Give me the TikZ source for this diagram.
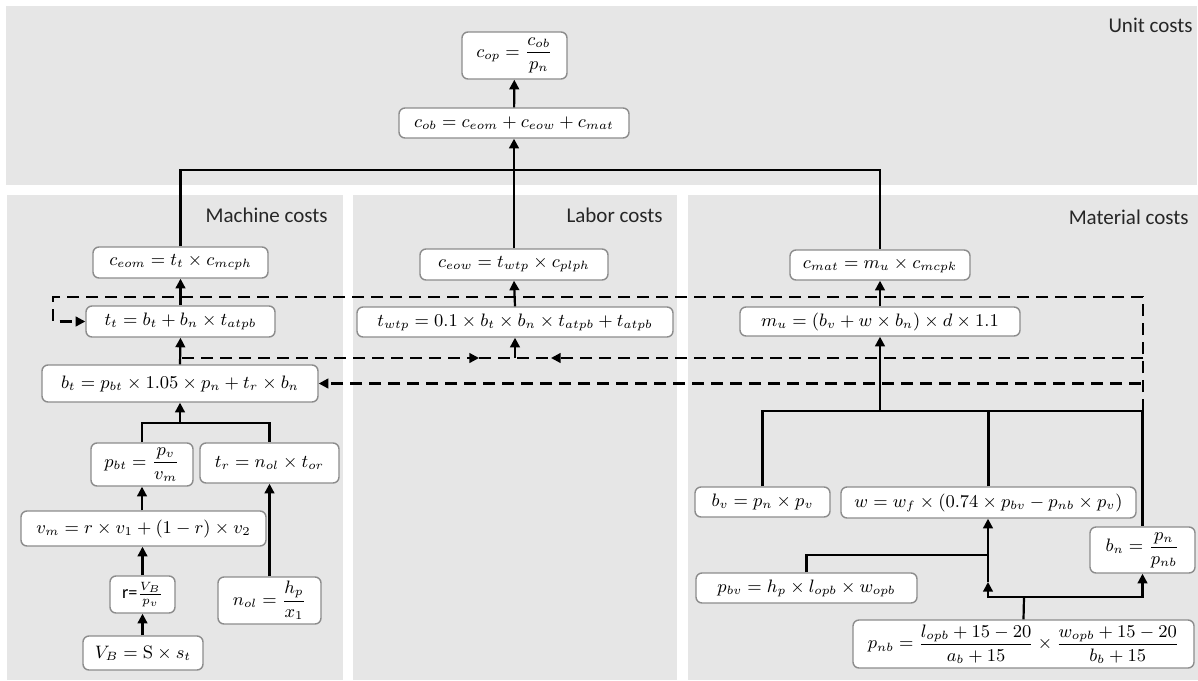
\documentclass[tikz,border=0pt]{standalone}
\usepackage{amsmath}
\usepackage[no-math]{fontspec}
\setmainfont{Carlito}
\usetikzlibrary{arrows.meta}
\definecolor{panel}{HTML}{E6E6E6}
\definecolor{boxline}{HTML}{8C8C8C}
\definecolor{labtext}{HTML}{262626}
\tikzset{
  eq/.style 2 args={draw=boxline, fill=white, rounded corners=3pt, line width=0.7pt,
    inner sep=0pt, minimum width=#1*0.5pt, minimum height=#2*0.5pt,
    font=\fontsize{9.1}{11}\selectfont},
  lab/.style={font=\fontsize{10.5}{12}\selectfont, text=labtext, inner sep=0pt, anchor=east},
  conn/.style={line width=1.1pt, black},
  arr/.style={conn, -{Triangle[length=4.8pt,width=4.8pt]}},
  dsh/.style={conn, dash pattern=on 6pt off 3.5pt},
  darr/.style={dsh, -{Triangle[length=4.8pt,width=4.8pt]}},
}
\begin{document}
\begin{tikzpicture}[x=0.5pt,y=-0.5pt]
\useasboundingbox[fill=white] (0,0) rectangle (1198,680);
% panels
\fill[panel] (6,6) rectangle (1197,185);
\fill[panel] (7,195) rectangle (343,680);
\fill[panel] (353,195) rectangle (677,680);
\fill[panel] (688,195) rectangle (1198,680);
% labels
\node[lab] (lu) at (1193,25) {Unit costs};
\node[lab] (lm) at (328,215) {Machine costs};
\node[lab] (ll) at (663,215) {Labor costs};
\node[lab] (lt) at (1189,217) {Material costs};
% unit
\node[eq={105}{47}] (cop) at (514.5,55.5) {$c_{op}=\dfrac{c_{ob}}{p_n}$};
\node[eq={230}{30}] (cob) at (514,123) {$c_{ob}=c_{eom}+c_{eow}+c_{mat}$};
% machine
\node[eq={175}{31}] (ceom) at (180.5,262.5) {$c_{eom}=t_t\times c_{mcph}$};
\node[eq={189}{31}] (tt) at (180.5,321.5) {$t_t=b_t+b_n\times t_{atpb}$};
\node[eq={276}{37}] (bt) at (180,383.5) {$b_t=p_{bt}\times 1.05\times p_n+t_r\times b_n$};
\node[eq={102}{43}] (pbt) at (142,464.5) {$p_{bt}=\dfrac{p_v}{v_m}$};
\node[eq={139}{40}] (tr) at (269.5,463) {$t_r=n_{ol}\times t_{or}$};
\node[eq={245}{35}] (vm) at (143.5,528.5) {$v_m=r\times v_1+(1-r)\times v_2$};
\node[eq={65}{37}] (r) at (142.5,594.5) {r=$\frac{V_B}{p_v}$};
\node[eq={103}{47}] (nol) at (269.5,600.5) {$n_{ol}=\dfrac{h_p}{x_1}$};
\node[eq={120}{34}] (vb) at (143,653) {$V_B=\mathrm{S}\times s_t$};
% labor
\node[eq={188}{31}] (ceow) at (514,264.5) {$c_{eow}=t_{wtp}\times c_{plph}$};
\node[eq={316}{30}] (twtp) at (515,322) {$t_{wtp}=0.1\times b_t\times b_n\times t_{atpb}+t_{atpb}$};
% material
\node[eq={180}{30}] (cmat) at (880,265) {$c_{mat}=m_u\times c_{mcpk}$};
\node[eq={280}{29}] (mu) at (880,321.5) {$m_u=(b_v+w\times b_n)\times d\times 1.1$};
\node[eq={135}{30}] (bv) at (762.5,502) {$b_v=p_n\times p_v$};
\node[eq={295}{31}] (w) at (988.5,502.5) {$w=w_f\times(0.74\times p_{bv}-p_{nb}\times p_v)$};
\node[eq={105}{46}] (bn) at (1142.5,550) {$b_n=\dfrac{p_n}{p_{nb}}$};
\node[eq={221}{30}] (pbv) at (806.5,588) {$p_{bv}=h_p\times l_{opb}\times w_{opb}$};
\node[eq={341}{48}] (pnb) at (1023.5,644) {$p_{nb}=\dfrac{l_{opb}+15-20}{a_b+15}\times\dfrac{w_{opb}+15-20}{b_b+15}$};
% coordinates
\coordinate (hub) at (514,170);
\coordinate (mj) at (180,423);
\coordinate (mat) at (880,411);
\coordinate (bnj) at (1143,411);
\coordinate (wj) at (988,555);
\coordinate (pj) at (1024,597);
\coordinate (wmid) at (988,582);
\coordinate (dA) at (1143,297);
\coordinate (dL) at (53,297);
\coordinate (dL2) at (53,321.5);
\coordinate (r1) at (1143,358);
\coordinate (l1) at (182,358);
\coordinate (m1) at (479,358);
\coordinate (m2) at (551,358);
\coordinate (tw) at (515,358);
\coordinate (r2) at (1141,383.5);
% solid connectors
\draw[arr] (cob) -- (cop);
\draw[conn] (ceom.north) |- (hub) -| (cmat.north);
\draw[arr] (ceow.north) -- (cob.south);
\draw[arr] (tt.north) -- (ceom.south);
\draw[arr] (bt.north) -- (tt.south);
\draw[conn] (pbt.north) |- (mj) -| (tr.north);
\draw[arr] (mj) -- (bt.south);
\draw[arr] (vm.north -| pbt.south) -- (pbt.south);
\draw[arr] (r.north) -- (r.north |- vm.south);
\draw[arr] (vb.north -| r.south) -- (r.south);
\draw[arr] (nol.north) -- (nol.north |- tr.south);
\draw[arr] (twtp.north) -- (ceow.south);
\draw[arr] (mu.north) -- (cmat.south);
\draw[conn] (bv.north) |- (mat) -| (bn.north);
\draw[conn] (w.north) -- (w.north |- mat);
\draw[arr] (mat) -- (mu.south);
\draw[conn] (pbv.north) |- (wj);
\draw[conn] (pnb.north) -- (pj);
\draw[arr] (pj) -| (bn.south);
\draw[arr] (pj) -| (wmid);
\draw[arr] (wmid) -- (w.south -| wmid);
% dashed connectors
\draw[darr] (bnj) -- (dA) -- (dL) -- (dL2) -- (tt.west);
\draw[darr] (l1) -- (m1);
\draw[dsh] (m1) -- (m2);
\draw[darr] (r1) -- (m2);
\draw[arr] (tw) -- (twtp.south);
\draw[darr] (r2) -- (bt.east);
\end{tikzpicture}
\end{document}
